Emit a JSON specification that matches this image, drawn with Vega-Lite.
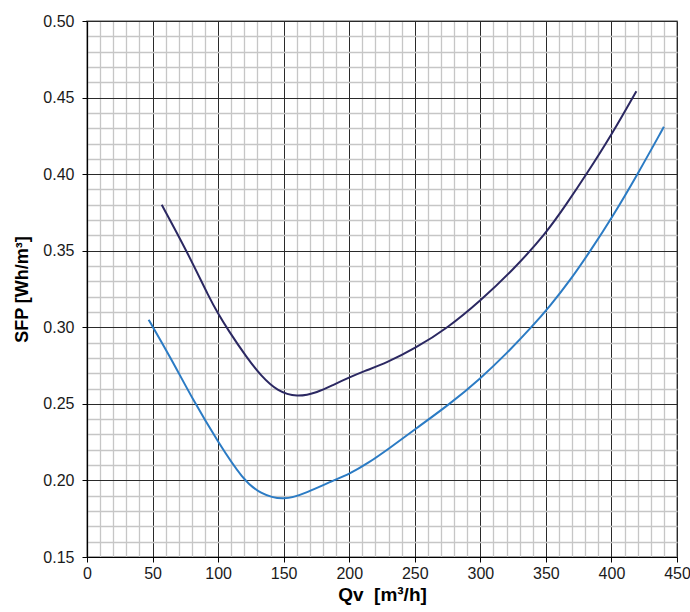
{
  "$schema": "https://vega.github.io/schema/vega-lite/v6.json",
  "width": 590,
  "height": 536,
  "autosize": "none",
  "padding": {"left": 87, "top": 21, "right": 13, "bottom": 55},
  "background": "white",
  "config": {
    "view": {"stroke": "#8a8a8a", "strokeWidth": 1.5},
    "font": "Liberation Sans"
  },
  "data": {
    "values": [
      {"q": 57, "sfp": 0.380, "s": "upper"},
      {"q": 76, "sfp": 0.350, "s": "upper"},
      {"q": 94, "sfp": 0.318, "s": "upper"},
      {"q": 100, "sfp": 0.309, "s": "upper"},
      {"q": 107, "sfp": 0.299, "s": "upper"},
      {"q": 122, "sfp": 0.2800, "s": "upper"},
      {"q": 133, "sfp": 0.2680, "s": "upper"},
      {"q": 145, "sfp": 0.2584, "s": "upper"},
      {"q": 160, "sfp": 0.2542, "s": "upper"},
      {"q": 176, "sfp": 0.2575, "s": "upper"},
      {"q": 188, "sfp": 0.2625, "s": "upper"},
      {"q": 200, "sfp": 0.2672, "s": "upper"},
      {"q": 211, "sfp": 0.2712, "s": "upper"},
      {"q": 229, "sfp": 0.2770, "s": "upper"},
      {"q": 250, "sfp": 0.2861, "s": "upper"},
      {"q": 275, "sfp": 0.2995, "s": "upper"},
      {"q": 300, "sfp": 0.3172, "s": "upper"},
      {"q": 325, "sfp": 0.3375, "s": "upper"},
      {"q": 350, "sfp": 0.3612, "s": "upper"},
      {"q": 366, "sfp": 0.3808, "s": "upper"},
      {"q": 381, "sfp": 0.400, "s": "upper"},
      {"q": 400, "sfp": 0.4255, "s": "upper"},
      {"q": 419, "sfp": 0.4542, "s": "upper"},
      {"q": 47, "sfp": 0.305, "s": "lower"},
      {"q": 63.5, "sfp": 0.2806, "s": "lower"},
      {"q": 81, "sfp": 0.2523, "s": "lower"},
      {"q": 100, "sfp": 0.225, "s": "lower"},
      {"q": 119, "sfp": 0.2005, "s": "lower"},
      {"q": 132, "sfp": 0.1912, "s": "lower"},
      {"q": 150, "sfp": 0.1866, "s": "lower"},
      {"q": 168, "sfp": 0.1922, "s": "lower"},
      {"q": 188, "sfp": 0.200, "s": "lower"},
      {"q": 200, "sfp": 0.2042, "s": "lower"},
      {"q": 214, "sfp": 0.2110, "s": "lower"},
      {"q": 231, "sfp": 0.2212, "s": "lower"},
      {"q": 250, "sfp": 0.2333, "s": "lower"},
      {"q": 277, "sfp": 0.250, "s": "lower"},
      {"q": 300, "sfp": 0.2665, "s": "lower"},
      {"q": 320, "sfp": 0.2828, "s": "lower"},
      {"q": 339, "sfp": 0.300, "s": "lower"},
      {"q": 353, "sfp": 0.3137, "s": "lower"},
      {"q": 369, "sfp": 0.3312, "s": "lower"},
      {"q": 384, "sfp": 0.350, "s": "lower"},
      {"q": 400, "sfp": 0.371, "s": "lower"},
      {"q": 420, "sfp": 0.400, "s": "lower"},
      {"q": 440, "sfp": 0.4309, "s": "lower"}
    ]
  },
  "resolve": {"axis": {"x": "independent", "y": "independent"}},
  "layer": [
    {
      "transform": [{"filter": "datum.s === 'lower'"}],
      "mark": {"type": "line", "color": "#2b7bc4", "strokeWidth": 2, "interpolate": "basis", "clip": true},
      "encoding": {
        "x": {
          "field": "q", "type": "quantitative",
          "scale": {"domain": [0, 450], "nice": false, "zero": false},
          "axis": {
            "orient": "top", "values": [0,10,20,30,40,60,70,80,90,110,120,130,140,160,170,180,190,210,220,230,240,260,270,280,290,310,320,330,340,360,370,380,390,410,420,430,440],
            "grid": true, "gridColor": "#c6c6c6", "gridWidth": 1.3,
            "labels": false, "ticks": false, "domain": false, "title": null
          }
        },
        "y": {
          "field": "sfp", "type": "quantitative",
          "scale": {"domain": [0.15, 0.5], "nice": false, "zero": false},
          "axis": {
            "orient": "right", "values": [0.16,0.17,0.18,0.19,0.21,0.22,0.23,0.24,0.26,0.27,0.28,0.29,0.31,0.32,0.33,0.34,0.36,0.37,0.38,0.39,0.41,0.42,0.43,0.44,0.46,0.47,0.48,0.49],
            "grid": true, "gridColor": "#c6c6c6", "gridWidth": 1.3,
            "labels": false, "ticks": false, "domain": false, "title": null
          }
        }
      }
    },
    {
      "transform": [{"filter": "datum.s === 'upper'"}],
      "mark": {"type": "line", "color": "#2b2862", "strokeWidth": 2, "interpolate": "basis", "clip": true},
      "encoding": {
        "x": {
          "field": "q", "type": "quantitative",
          "scale": {"domain": [0, 450], "nice": false, "zero": false},
          "axis": {
            "orient": "bottom", "values": [0,50,100,150,200,250,300,350,400,450],
            "grid": true, "gridColor": "#2a2a2a", "gridWidth": 1,
            "domain": true, "domainColor": "#000", "domainWidth": 1.2,
            "ticks": true, "tickColor": "#000", "tickSize": 5,
            "labelFontSize": 16, "labelColor": "#1a1a1a", "labelPadding": 3, "labelFont": "Liberation Sans", "labelFlush": false,
            "title": "Qv\u00a0\u00a0[m³/h]", "titleFontSize": 19, "titleFontWeight": "bold", "titleColor": "#000", "titlePadding": 4, "titleFont": "Liberation Sans"
          }
        },
        "y": {
          "field": "sfp", "type": "quantitative",
          "scale": {"domain": [0.15, 0.5], "nice": false, "zero": false},
          "axis": {
            "orient": "left", "values": [0.15,0.2,0.25,0.3,0.35,0.4,0.45,0.5], "format": ".2f",
            "grid": true, "gridColor": "#2a2a2a", "gridWidth": 1,
            "domain": true, "domainColor": "#000", "domainWidth": 1.2,
            "ticks": true, "tickColor": "#000", "tickSize": 5,
            "labelFontSize": 16, "labelColor": "#1a1a1a", "labelPadding": 8, "labelFont": "Liberation Sans", "labelFlush": false,
            "title": "SFP [Wh/m³]", "titleFontSize": 18, "titleFontWeight": "bold", "titleColor": "#000", "titlePadding": 11, "titleFont": "Liberation Sans"
          }
        }
      }
    }
  ]
}
